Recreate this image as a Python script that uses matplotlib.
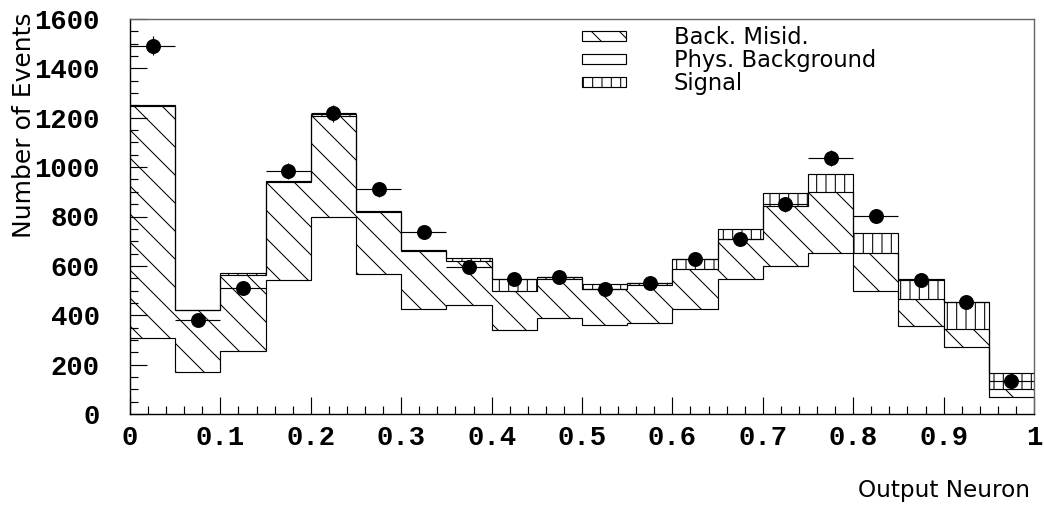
import matplotlib
matplotlib.use('Agg')
import matplotlib.pyplot as plt
import numpy as np
from matplotlib.patches import Patch
from matplotlib.ticker import MultipleLocator

# ------------------------------ datos ------------------------------
bordes = np.linspace(0, 1, 21)
phys_bkg = [306, 170, 255, 541, 798, 567, 425, 440, 342, 389, 360, 367, 427, 545, 601, 653, 498, 358, 271, 70]
back_misid = [943, 251, 310, 399, 409, 250, 235, 181, 156, 159, 145, 154, 160, 162, 243, 245, 153, 108, 73, 31]
signal = [2, 2, 5, 5, 8, 6, 4, 12, 47, 8, 21, 8, 41, 44, 50, 75, 81, 82, 111, 64]
datos = [1492, 379, 509, 984, 1218, 910, 736, 597, 548, 553, 505, 532, 626, 710, 849, 1038, 801, 541, 455, 134]

x_ticks = [0, 0.1, 0.2, 0.3, 0.4, 0.5, 0.6, 0.7, 0.8, 0.9, 1]
x_labels = ['0', '0.1', '0.2', '0.3', '0.4', '0.5', '0.6', '0.7', '0.8', '0.9', '1']

# ------------------------------ gráfica ------------------------------
DPI = 168
plt.rcParams['hatch.linewidth'] = 0.45
fig = plt.figure(figsize=(1044 / DPI, 509 / DPI), dpi=DPI)
ax = fig.add_axes([130 / 1044, 95 / 509, 904 / 1044, 395 / 509])

t1 = np.array(phys_bkg, dtype=float)
t2 = t1 + np.array(back_misid)
t3 = t2 + np.array(signal)

ax.stairs(t2, bordes, baseline=t1, fill=True, facecolor='white', edgecolor='black',
          hatch='\\\\', linewidth=0)
ax.stairs(t3, bordes, baseline=t2, fill=True, facecolor='white', edgecolor='black',
          hatch='|||', linewidth=0)
for t in (t1, t2, t3):
    ax.stairs(t, bordes, baseline=None, color='black', linewidth=0.5)

centros = 0.5 * (bordes[:-1] + bordes[1:])
ax.errorbar(centros, datos, xerr=0.025, yerr=np.sqrt(datos), fmt='o', color='black',
            markersize=5.4, elinewidth=0.5, capsize=0)

ax.set_xlim(0, 1)
ax.set_ylim(0, 1600)
ax.set_xticks(x_ticks)
ax.set_xticklabels(x_labels)
ax.xaxis.set_minor_locator(MultipleLocator(0.02))
ax.yaxis.set_major_locator(MultipleLocator(200))
ax.yaxis.set_minor_locator(MultipleLocator(50))
ax.tick_params(which='both', direction='in', top=False, right=False, width=0.5)
ax.tick_params(which='major', length=7.2)
ax.tick_params(which='minor', length=3.4)
ax.tick_params(axis='y', which='major', pad=12.9)
ax.tick_params(axis='x', which='major', pad=4.7)
for lab in ax.get_xticklabels() + ax.get_yticklabels():
    lab.set_fontfamily('Liberation Mono')
    lab.set_fontweight('bold')
    lab.set_fontsize(11.7)

for s in ('top', 'right'):
    ax.spines[s].set_color('#666666')
    ax.spines[s].set_linewidth(0.6)
for s in ('left', 'bottom'):
    ax.spines[s].set_color('black')
    ax.spines[s].set_linewidth(0.6)

fig.text(24 / 1044, 1 - 13 / 509, 'Number of Events', rotation=90, ha='center', va='top',
         fontsize=10.7, family='DejaVu Sans')
fig.text(1030 / 1044, 1 - 490 / 509, 'Output Neuron', ha='right', va='center',
         fontsize=9.9, family='DejaVu Sans')

handles = [Patch(facecolor='white', edgecolor='black', hatch='\\\\', linewidth=0.5),
           Patch(facecolor='white', edgecolor='black', linewidth=0.5),
           Patch(facecolor='white', edgecolor='black', hatch='|||', linewidth=0.5)]
ax.legend(handles, ['Back. Misid.', 'Phys. Background', 'Signal'],
          loc='upper left', bbox_to_anchor=(582 / 1044, 1 - 26 / 509),
          bbox_transform=fig.transFigure, frameon=False, borderpad=0, borderaxespad=0,
          fontsize=9.7, handlelength=1.95, handleheight=0.3, handletextpad=2.1,
          labelspacing=0.0)

plt.savefig('out.png', dpi=DPI)
